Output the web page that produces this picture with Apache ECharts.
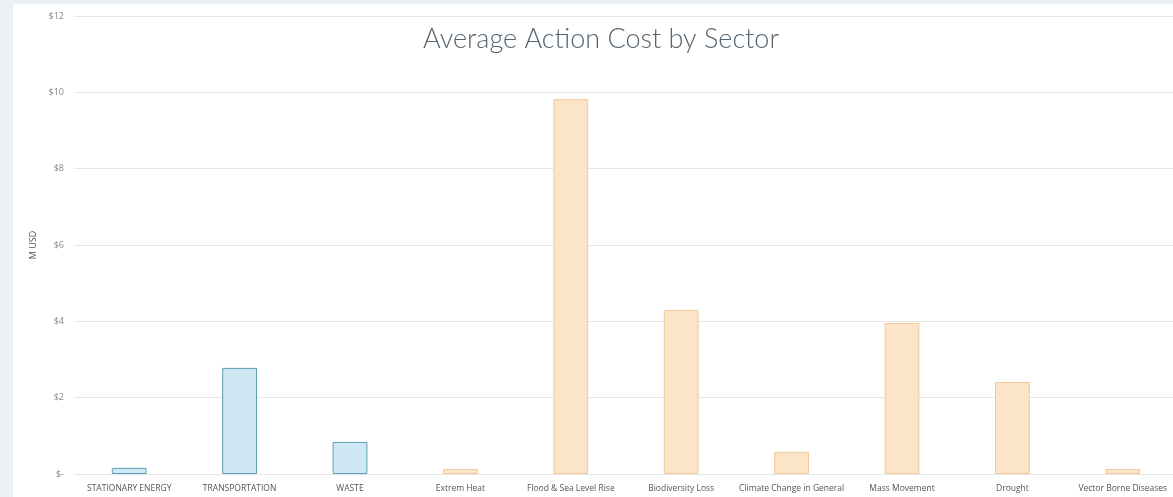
<!DOCTYPE html>
<html lang="en">
<head>
    <meta charset="UTF-8">
    <title>Average Action Cost by Sector</title>
    <script src="https://cdn.jsdelivr.net/npm/echarts@6/dist/echarts.min.js"></script>
    <style>
        html, body { margin: 0; padding: 0; background: #ecf1f5; overflow: hidden; width: 1173px; height: 497px; }
        /* panel is wider than the window: the plot is cut off at the right edge */
        #main { position: absolute; left: 13px; top: 4px; width: 1200px; height: 493px; background: #fff; }
    </style>
</head>
<body>
<div id="main"></div>
<script type="text/javascript">
    var sectors = ['STATIONARY ENERGY', 'TRANSPORTATION', 'WASTE', 'Extrem Heat', 'Flood & Sea Level Rise',
        'Biodiversity Loss', 'Climate Change in General', 'Mass Movement', 'Drought', 'Vector Borne Diseases'];
    var avgCost = [0.16, 2.78, 0.84, 0.13, 9.82, 4.30, 0.58, 3.96, 2.41, 0.13];
    // first three are mitigation sectors, the rest adaptation
    var isMitigation = [true, true, true, false, false, false, false, false, false, false];
    var yTicks = [0, 2, 4, 6, 8, 10, 12];

    var myChart = echarts.init(document.getElementById('main'));

    var barData = avgCost.map(function (v, i) {
        return {
            value: v,
            itemStyle: isMitigation[i]
                ? {color: '#cfe8f3', borderColor: '#5e9fb5', borderWidth: 1}
                : {color: '#fbe4c8', borderColor: '#efc99b', borderWidth: 1}
        };
    });

    var option = {
        animation: false,
        title: {
            text: 'Average Action Cost by Sector',
            left: 583,
            textAlign: 'center',
            top: 17,
            textStyle: {fontFamily: 'Lato', fontWeight: 300, fontSize: 27, color: '#56646f'}
        },
        grid: {left: 61, width: 1104, top: 12, height: 458},
        xAxis: {
            type: 'category',
            data: sectors,
            axisLine: {show: false},
            axisTick: {show: false},
            axisLabel: {
                interval: 0, margin: 10, fontSize: 8.5,
                fontFamily: 'Open Sans', color: '#555'
            }
        },
        yAxis: {
            type: 'value',
            min: yTicks[0],
            max: yTicks[yTicks.length - 1],
            interval: 2,
            name: 'M USD',
            nameLocation: 'middle',
            nameGap: 31,
            nameTextStyle: {fontSize: 9, color: '#555', fontFamily: 'Open Sans'},
            axisLabel: {
                margin: 10, fontSize: 9, color: '#888', fontFamily: 'Open Sans',
                formatter: function (v) { return v === 0 ? '$-' : '$' + v; }
            },
            splitLine: {lineStyle: {color: '#e6e6e6'}}
        },
        series: [{
            type: 'bar',
            barWidth: '31.5%',
            data: barData
        }]
    };

    myChart.setOption(option);
</script>
</body>
</html>
